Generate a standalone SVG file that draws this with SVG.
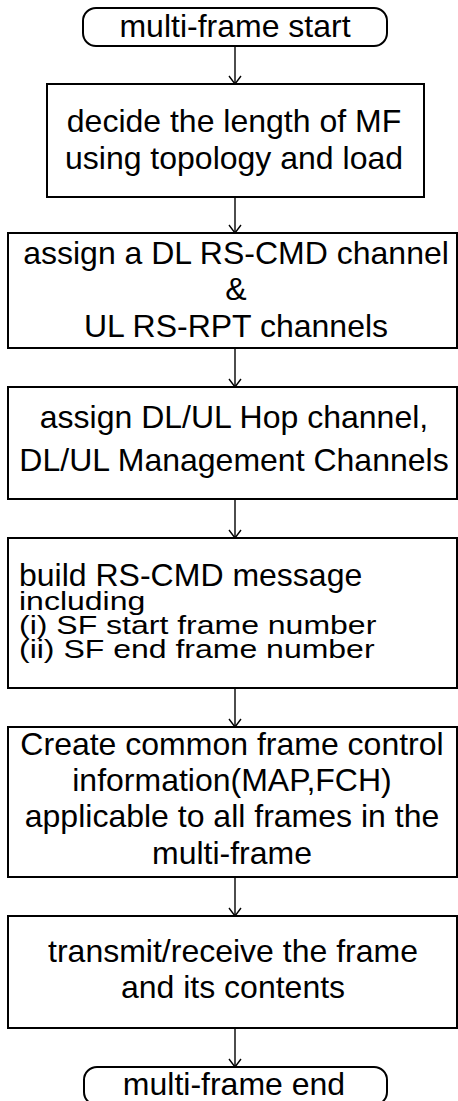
<svg xmlns="http://www.w3.org/2000/svg" width="458" height="1101" viewBox="0 0 458 1101">
  <style>
    .box { fill: #ffffff; stroke: #000000; stroke-width: 2; }
    .term { fill: #ffffff; stroke: #000000; stroke-width: 2; }
    .t { font-family: "Liberation Sans", Arial, sans-serif; font-size: 32px; fill: #000000; }
    .c { text-anchor: middle; }
    .link { stroke: #000000; stroke-width: 1.4; fill: none; marker-end: url(#head); }
  </style>
  <defs>
    <!-- open chevron arrowhead, drawn pointing along +x so orient="auto" follows the line -->
    <marker id="head" viewBox="0 0 10 14" refX="9" refY="7" markerWidth="10" markerHeight="14" markerUnits="userSpaceOnUse" orient="auto">
      <path d="M1,1 L9,7 L1,13" fill="none" stroke="#000000" stroke-width="1.4"/>
    </marker>
  </defs>
  <rect width="458" height="1101" fill="#ffffff"/>

  <g id="connectors">
    <line class="link" x1="235" y1="46" x2="235" y2="84"/>
    <line class="link" x1="235" y1="197" x2="235" y2="233"/>
    <line class="link" x1="235" y1="348" x2="235" y2="387"/>
    <line class="link" x1="235" y1="499" x2="235" y2="538"/>
    <line class="link" x1="235" y1="688" x2="235" y2="727"/>
    <line class="link" x1="235" y1="877" x2="235" y2="916"/>
    <line class="link" x1="235" y1="1028" x2="235" y2="1067"/>
  </g>

  <g id="mf-start">
    <rect class="term" x="83" y="8" width="304" height="38" rx="13" ry="13"/>
    <text class="t c" x="235" y="37">multi-frame start</text>
  </g>

  <g id="decide-length">
    <rect class="box" x="47" y="84" width="377" height="113"/>
    <text class="t c" x="234" y="132">decide the length of MF</text>
    <text class="t c" x="234" y="169">using topology and load</text>
  </g>

  <g id="assign-rs-channels">
    <rect class="box" x="8" y="233" width="449" height="115"/>
    <text class="t c" x="236" y="264">assign a DL RS-CMD channel</text>
    <text class="t c" x="236" y="300">&amp;</text>
    <text class="t c" x="236" y="337">UL RS-RPT channels</text>
  </g>

  <g id="assign-hop-mgmt">
    <rect class="box" x="8" y="387" width="449" height="112"/>
    <text class="t c" x="234" y="428">assign DL/UL Hop channel,</text>
    <text class="t c" x="234" y="471">DL/UL Management Channels</text>
  </g>

  <g id="build-rs-cmd">
    <rect class="box" x="8" y="538" width="449" height="150"/>
    <text class="t" x="19" y="586">build RS-CMD message</text>
    <!-- the remaining lines are set vertically condensed -->
    <text class="t" transform="translate(19,610) scale(1,0.78)">including</text>
    <text class="t" transform="translate(19,634) scale(1,0.78)">(i) SF start frame number</text>
    <text class="t" transform="translate(19,658) scale(1,0.78)">(ii) SF end frame number</text>
  </g>

  <g id="create-control-info">
    <rect class="box" x="8" y="727" width="449" height="150"/>
    <text class="t c" x="232" y="755">Create common frame control</text>
    <text class="t c" x="232" y="791">information(MAP,FCH)</text>
    <text class="t c" x="232" y="827">applicable to all frames in the</text>
    <text class="t c" x="232" y="864">multi-frame</text>
  </g>

  <g id="transmit-receive">
    <rect class="box" x="8" y="916" width="449" height="112"/>
    <text class="t c" x="233" y="962">transmit/receive the frame</text>
    <text class="t c" x="233" y="998">and its contents</text>
  </g>

  <g id="mf-end">
    <rect class="term" x="84" y="1067" width="303" height="38" rx="13" ry="13"/>
    <text class="t c" x="234" y="1095">multi-frame end</text>
  </g>
</svg>
